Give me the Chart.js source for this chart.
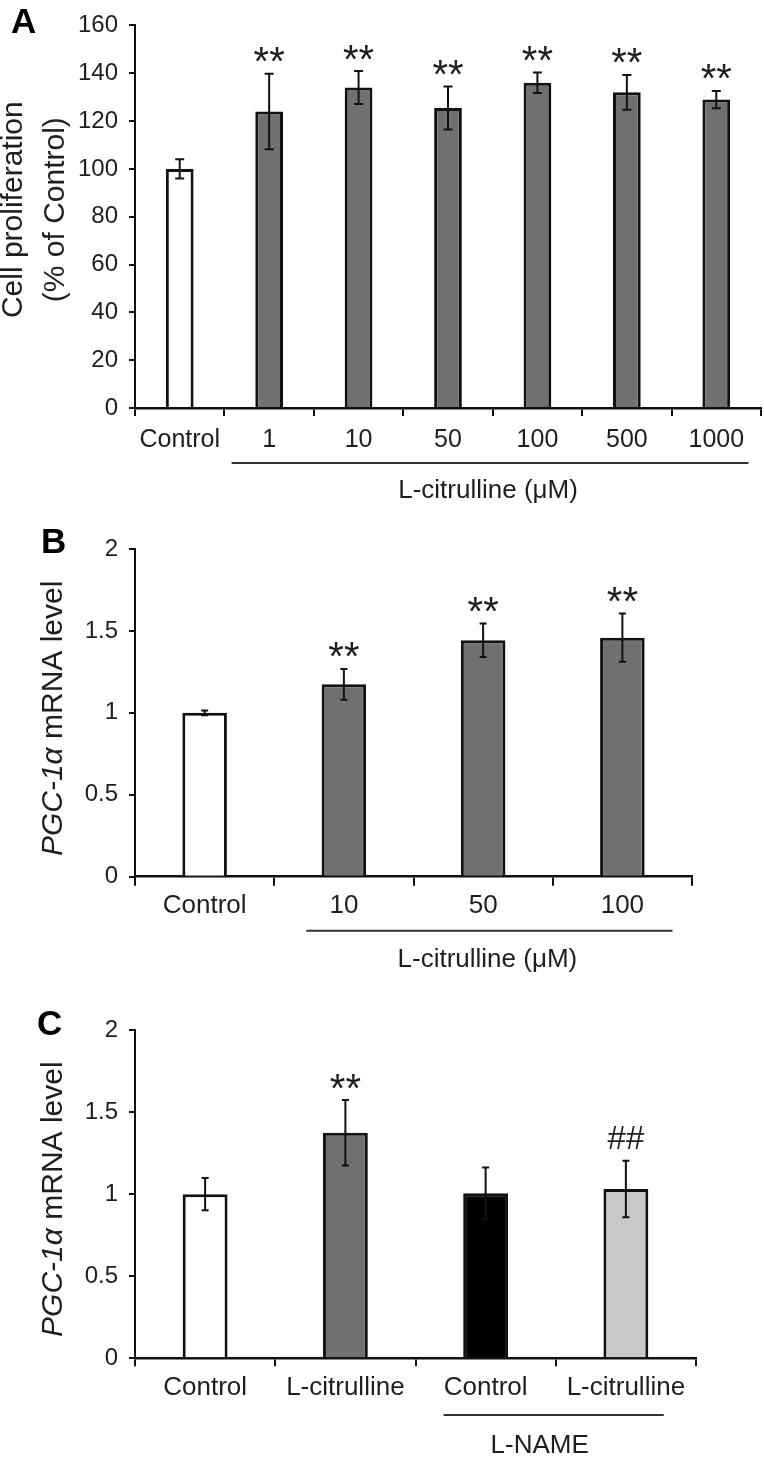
<!DOCTYPE html>
<html>
<head>
<meta charset="utf-8">
<script src="https://cdn.jsdelivr.net/npm/chart.js@4.4.1/dist/chart.umd.min.js"></script>
<style>
  body { margin: 0; background: #fff; }
  #wrap { position: relative; width: 764px; height: 1458px; }
  canvas { position: absolute; left: 0; }
</style>
</head>
<body>
<div id="wrap">
  <canvas id="chartA" width="764" height="520" style="top:0px"></canvas>
  <canvas id="chartB" width="764" height="475" style="top:520px"></canvas>
  <canvas id="chartC" width="764" height="463" style="top:995px"></canvas>
</div>
<script>
// A: cell proliferation (% of control)
const labelsA = ['Control', '1', '10', '50', '100', '500', '1000'];
const valuesA = [100, 124, 134, 125.5, 136, 132, 129];
const errorsA = [4, 15.8, 6.9, 9, 4.3, 7.3, 3.6];
const marksA = ['', '**', '**', '**', '**', '**', '**'];
const ticksA = [0, 20, 40, 60, 80, 100, 120, 140, 160];

// B: PGC-1a mRNA, dose
const labelsB = ['Control', '10', '50', '100'];
const valuesB = [1.0, 1.174, 1.443, 1.459];
const errorsB = [0.015, 0.094, 0.102, 0.147];
const marksB = ['', '**', '**', '**'];
const ticksB = [0, 0.5, 1, 1.5, 2];

// C: PGC-1a mRNA with L-NAME
const labelsC = ['Control', 'L-citrulline', 'Control', 'L-citrulline'];
const valuesC = [1.0, 1.374, 1.005, 1.031];
const errorsC = [0.098, 0.199, 0.158, 0.172];
const marksC = ['', '**', '', '##'];
const ticksC = [0, 0.5, 1, 1.5, 2];

const FONT = '"Liberation Sans", Arial, sans-serif';
const INK = '#1e1e1e';
const GRAY = '#707070';
Chart.defaults.font.family = FONT;
Chart.defaults.color = INK;

function extrasPlugin(o) {
  return {
    id: 'extras',
    afterDatasetsDraw(chart) {
      const ctx = chart.ctx, xs = chart.scales.x, ys = chart.scales.y, area = chart.chartArea;
      const meta = chart.getDatasetMeta(0);
      const vals = chart.data.datasets[0].data;
      const n = chart.data.labels.length;
      const w = xs.width / n;
      ctx.save();

      // error bars
      ctx.strokeStyle = '#111';
      ctx.lineWidth = 2;
      o.errors.forEach((e, i) => {
        const x = meta.data[i].x;
        const y1 = ys.getPixelForValue(vals[i] + e);
        const y2 = ys.getPixelForValue(vals[i] - e);
        ctx.beginPath();
        ctx.moveTo(x, y1); ctx.lineTo(x, y2);
        ctx.moveTo(x - o.cap, y1); ctx.lineTo(x + o.cap, y1);
        ctx.moveTo(x - o.cap, y2); ctx.lineTo(x + o.cap, y2);
        ctx.stroke();
      });

      // significance marks
      ctx.fillStyle = INK;
      ctx.textAlign = 'center';
      ctx.textBaseline = 'alphabetic';
      o.marks.forEach((m, i) => {
        if (!m) return;
        ctx.font = (m === '##' ? '33px ' : '40px ') + FONT;
        const d = ctx.measureText(m).actualBoundingBoxDescent;
        const top = ys.getPixelForValue(vals[i] + o.errors[i]);
        ctx.fillText(m, meta.data[i].x, top - 11.5 - d);
      });

      // group bracket + label
      const b = o.bracket;
      const x1 = xs.getPixelForValue(b.from) + b.l * w;
      const x2 = xs.getPixelForValue(b.to) + b.r * w;
      ctx.strokeStyle = '#333';
      ctx.lineWidth = 2;
      ctx.beginPath();
      ctx.moveTo(x1, area.bottom + b.dy);
      ctx.lineTo(x2, area.bottom + b.dy);
      ctx.stroke();
      ctx.font = '26px ' + FONT;
      ctx.textBaseline = 'middle';
      ctx.fillText(b.label, (x1 + x2) / 2 + b.dx, area.bottom + b.labelDy);

      // panel letter
      ctx.font = 'bold 35px ' + FONT;
      ctx.textAlign = 'left';
      ctx.textBaseline = 'alphabetic';
      ctx.fillStyle = '#000';
      ctx.fillText(o.letter, o.letterX, o.letterY);

      // rotated y title (lines of parts, italic allowed)
      const cy = (area.top + area.bottom) / 2 + o.titleDy;
      ctx.fillStyle = INK;
      ctx.textBaseline = 'middle';
      o.title.forEach((parts, li) => {
        const fonts = parts.map(p => (p.italic ? 'italic ' : '') + '30px ' + FONT);
        const widths = parts.map((p, k) => { ctx.font = fonts[k]; return ctx.measureText(p.text).width; });
        const total = widths.reduce((a, c) => a + c, 0);
        ctx.save();
        ctx.translate(o.titleX[li], cy);
        ctx.rotate(-Math.PI / 2);
        let x = -total / 2;
        parts.forEach((p, k) => {
          ctx.font = fonts[k];
          ctx.fillText(p.text, x, 0);
          x += widths[k];
        });
        ctx.restore();
      });
      ctx.restore();
    }
  };
}

function makeChart(id, labels, values, ticks, fills, o) {
  return new Chart(document.getElementById(id), {
    type: 'bar',
    data: {
      labels: labels,
      datasets: [{
        data: values,
        backgroundColor: fills,
        borderColor: '#111',
        borderWidth: 3,
        barPercentage: o.barPct,
        categoryPercentage: 1
      }]
    },
    options: {
      responsive: false,
      animation: false,
      layout: { padding: { left: 0, right: o.padRight, top: o.padTop, bottom: 0 } },
      plugins: { legend: { display: false }, tooltip: { enabled: false } },
      scales: {
        x: {
          afterFit: s => { s.height = o.xHeight; },
          grid: { offset: true, drawOnChartArea: false, tickLength: o.xTick, color: '#111', lineWidth: 2 },
          border: { color: '#111', width: 2.5 },
          ticks: { color: INK, font: { size: o.xFont }, padding: o.xPad, autoSkip: false, maxRotation: 0 }
        },
        y: {
          min: ticks[0],
          max: ticks[ticks.length - 1],
          afterBuildTicks: s => { s.ticks = ticks.map(v => ({ value: v })); },
          afterFit: s => { s.width = 135; },
          grid: { drawOnChartArea: false, tickLength: 6, color: '#111', lineWidth: 2 },
          border: { color: '#111', width: 2 },
          ticks: { color: INK, font: { size: 24 }, padding: 11, callback: v => String(v) }
        }
      }
    },
    plugins: [extrasPlugin(o)]
  });
}

const pgcTitle = [[{ text: 'PGC-1α', italic: true }, { text: ' mRNA level' }]];

makeChart('chartA', labelsA, valuesA, ticksA,
  ['#ffffff', GRAY, GRAY, GRAY, GRAY, GRAY, GRAY], {
    errors: errorsA, marks: marksA, cap: 4.5, barPct: 0.31,
    padTop: 15, padRight: 3, xHeight: 112, xTick: 8, xFont: 25, xPad: 9,
    bracket: { from: 1, to: 6, l: -0.42, r: 0.36, dy: 55, label: 'L-citrulline (μM)', dx: -2, labelDy: 83 },
    letter: 'A', letterX: 11, letterY: 33,
    title: [[{ text: 'Cell proliferation' }], [{ text: '(% of Control)' }]],
    titleX: [14, 56], titleDy: -7
  });

makeChart('chartB', labelsB, valuesB, ticksB,
  ['#ffffff', GRAY, GRAY, GRAY], {
    errors: errorsB, marks: marksB, cap: 3.5, barPct: 0.32,
    padTop: 29, padRight: 72, xHeight: 118.3, xTick: 9, xFont: 26, xPad: 5,
    bracket: { from: 1, to: 3, l: -0.27, r: 0.36, dy: 54, label: 'L-citrulline (μM)', dx: -2, labelDy: 83 },
    letter: 'B', letterX: 41, letterY: 33,
    title: pgcTitle, titleX: [53.5], titleDy: 5.5
  });

makeChart('chartC', labelsC, valuesC, ticksC,
  ['#ffffff', GRAY, '#000000', '#c8c8c8'], {
    errors: errorsC, marks: marksC, cap: 3.5, barPct: 0.32,
    padTop: 35, padRight: 68, xHeight: 99.7, xTick: 8, xFont: 26, xPad: 6,
    bracket: { from: 2, to: 3, l: -0.30, r: 0.27, dy: 56.7, label: 'L-NAME', dx: -14, labelDy: 88 },
    letter: 'C', letterX: 37, letterY: 40,
    title: pgcTitle, titleX: [53.3], titleDy: 5
  });
</script>
</body>
</html>
